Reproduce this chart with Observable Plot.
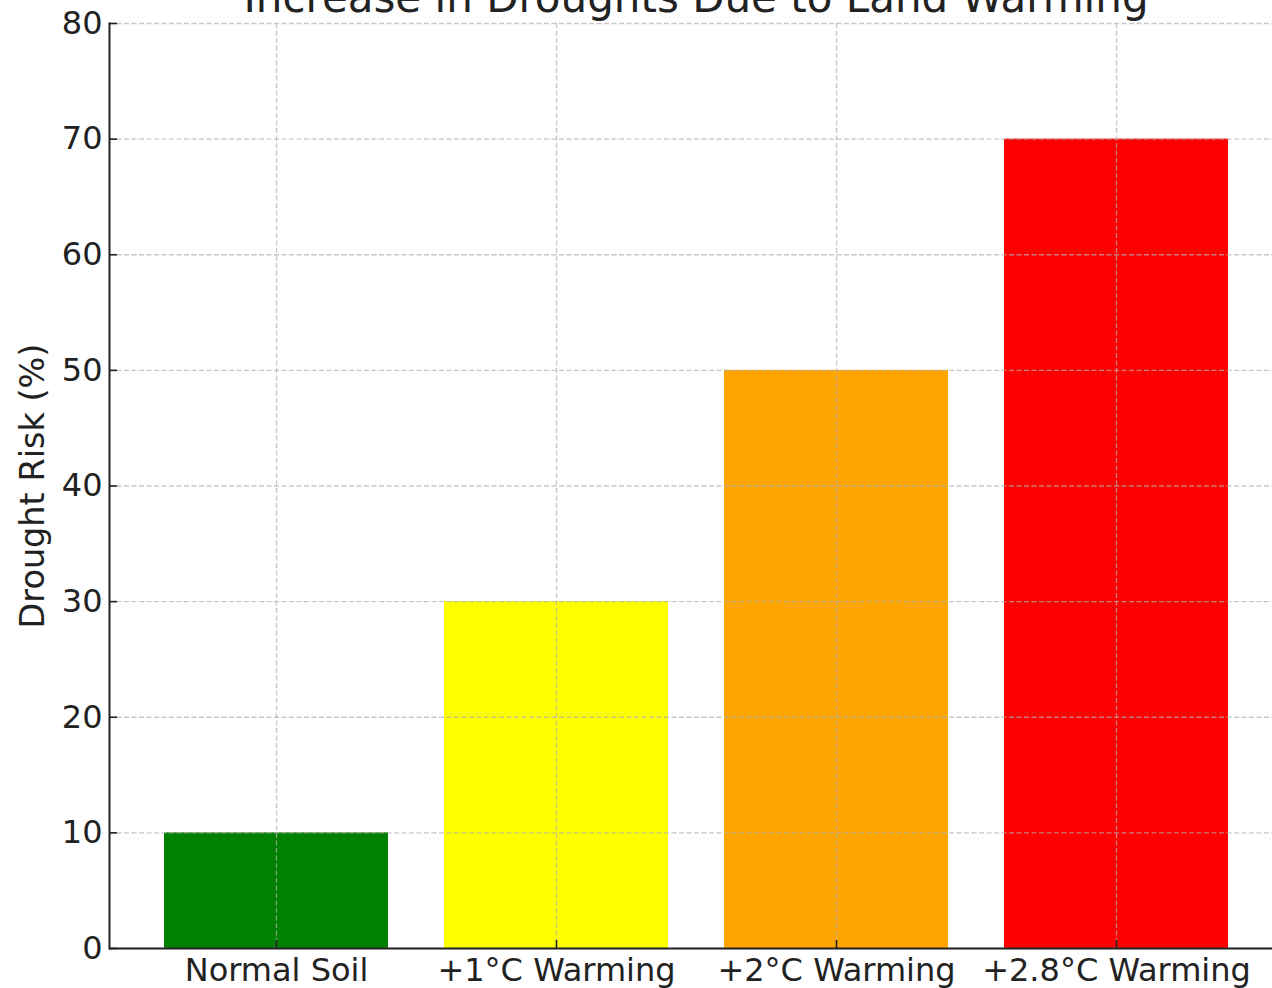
<!DOCTYPE html>
<html>
<head>
<meta charset="utf-8">
<script src="https://cdn.jsdelivr.net/npm/d3@7"></script>
<script src="https://cdn.jsdelivr.net/npm/@observablehq/plot@0.6"></script>
<style>
  html, body { margin: 0; padding: 0; background: white; overflow: hidden; }
</style>
</head>
<body>
<div id="chart"></div>
<script>
const categories = ["Normal Soil", "+1°C Warming", "+2°C Warming", "+2.8°C Warming"];
const risks = [10, 30, 50, 70];
const barColors = ["green", "yellow", "orange", "red"];
const yTicks = [0, 10, 20, 30, 40, 50, 60, 70, 80];
const titleText = "Increase in Droughts Due to Land Warming";
const yLabel = "Drought Risk (%)";

const data = categories.map((c, i) => ({category: c, value: risks[i], color: barColors[i]}));

const W = 1272, H = 988;
const mL = 109, mT = 23, mB = 40;
const step = 280.67;
const xEnd = mL + step * (4 - 0.2 + 2 * 0.19);
const textColor = "#222";
const gridStyle = {stroke: "#b0b0b0", strokeOpacity: 0.7, strokeWidth: 1.3, strokeDasharray: "5,2.5"};

const chart = Plot.plot({
  width: W,
  height: H,
  marginLeft: mL,
  marginRight: 0,
  marginTop: mT,
  marginBottom: mB,
  style: {fontFamily: "'DejaVu Sans', sans-serif", fontSize: "32px", color: textColor, background: "white", overflow: "visible"},
  x: {type: "band", domain: categories, range: [mL, xEnd], paddingInner: 0.2, paddingOuter: 0.19, label: null},
  y: {domain: [0, 80], label: null},
  marks: [
    Plot.barY(data, {x: "category", y: "value", fill: "color"}),
    Plot.gridY(yTicks, gridStyle),
    Plot.gridX(categories, gridStyle),
    Plot.axisY(yTicks, {tickSize: -8, tickPadding: 15, fontSize: 32, stroke: textColor, fill: textColor, strokeWidth: 1.6, label: null}),
    Plot.axisX(categories, {tickSize: -8, tickPadding: 18, fontSize: 32, stroke: textColor, fill: textColor, strokeWidth: 1.6, label: null}),
    Plot.ruleY([0], {stroke: textColor, strokeWidth: 2}),
    Plot.frame({anchor: "left", stroke: textColor, strokeWidth: 2}),
    Plot.text([yLabel], {text: d => d, frameAnchor: "left", textAnchor: "middle", rotate: -90, dx: -66, lineAnchor: "bottom", fontSize: 33.5, fill: textColor}),
    Plot.text([titleText], {text: d => d, frameAnchor: "top", textAnchor: "middle", dx: 5, dy: -12, lineAnchor: "bottom", fontSize: 42, fill: textColor})
  ]
});
document.getElementById("chart").appendChild(chart);
</script>
</body>
</html>
